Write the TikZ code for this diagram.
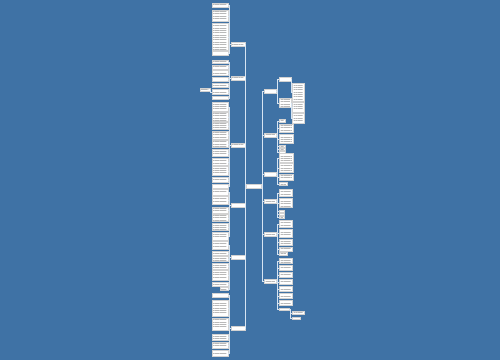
\documentclass[tikz,border=0pt]{standalone}
\usepackage{tikz}
\usetikzlibrary{patterns.meta}
\definecolor{bgblue}{RGB}{63,114,165}
\definecolor{linkc}{RGB}{214,228,242}
\tikzset{
  card/.style 2 args={draw=gray!35, line width=0.2pt, fill=white, inner sep=0pt,
    minimum width={#1*0.02cm}, minimum height={#2*0.02cm},
    path picture={\fill[pattern={Lines[distance=1.35pt,line width=0.35pt]}, pattern color=gray!55]
      ([shift={(0.8pt,-0.6pt)}]path picture bounding box.north west) rectangle
      ([shift={(-0.8pt,0.6pt)}]path picture bounding box.south east);}},
  topic/.style={card={14}{3.5}},
  link/.style={draw=linkc, line width=0.45pt},
}

\begin{document}
\begin{tikzpicture}[x=0.02cm, y=-0.02cm]
		%%%%% START %%%%%
		
		\fill[bgblue] (0,0) rectangle (500,360);
		\useasboundingbox (0,0) rectangle (500,360);
		
		\node[card={15}{4}] (root) at (254,186) {};
		
		% left topics
		\node[topic, anchor=east] (l1) at (245,44) {};
		\node[topic, anchor=east] (l2) at (245,78) {};
		\node[topic, anchor=east] (l3) at (245,145) {};
		\node[topic, anchor=east] (l4) at (245,205) {};
		\node[topic, anchor=east] (l5) at (245,257) {};
		\node[topic, anchor=east] (l6) at (245,328) {};
		\foreach \n in {l1,l2,l3,l4,l5,l6}
			\draw[link] (root.west) -- ++(-1,0) |- (\n.east);
		
		% right topics
		\node[card={12}{3.5}, anchor=west] (r1) at (264,91) {};
		\node[card={12}{3.5}, anchor=west] (r2) at (264,135) {};
		\node[card={12}{3.5}, anchor=west] (r3) at (264,174) {};
		\node[card={12}{3.5}, anchor=west] (r4) at (264,201) {};
		\node[card={12}{3.5}, anchor=west] (r5) at (264,234) {};
		\node[card={12}{3.5}, anchor=west] (r6) at (264,281) {};
		\foreach \n in {r1,r2,r3,r4,r5,r6}
			\draw[link] (root.east) -- ++(1,0) |- (\n.west);
		
		% left leaves
		\foreach \y/\h [count=\i] in {5/4,16/11,37/27,53/4}{
			\node[card={16}{\h}, anchor=east] (l1-\i) at (228,\y) {};
			\draw[link] (l1.west) -- ++(-1.5,0) |- (l1-\i.east);
		}
		\foreach \y/\h [count=\i] in {62/3,67/4,73/5,79/4,85/4,92/5,98/3}{
			\node[card={16}{\h}, anchor=east] (l2-\i) at (228,\y) {};
			\draw[link] (l2.west) -- ++(-1.5,0) |- (l2-\i.east);
		}
		\node[card={10}{3}, anchor=east] (l2-side) at (210,90) {};
		\draw[link] (l2-6.west) -- ++(-1,0) |- (l2-side.east);
		
		\foreach \y/\h [count=\i] in {107/9,117/9,126/7,135/8,144/7,153/7,162/7,171/9,180/5,186/4}{
			\node[card={16}{\h}, anchor=east] (l3-\i) at (228,\y) {};
			\draw[link] (l3.west) -- ++(-1.5,0) |- (l3-\i.east);
		}
		\foreach \y/\h [count=\i] in {192/6,200/8,210/6,218/7,227/7,236/8}{
			\node[card={16}{\h}, anchor=east] (l4-\i) at (228,\y) {};
			\draw[link] (l4.west) -- ++(-1.5,0) |- (l4-\i.east);
		}
		\foreach \y/\w/\h [count=\i] in {245/16/8,253/16/4,259/16/5,266/16/6,275/16/10,284/16/4,289/8/3}{
			\node[card={\w}{\h}, anchor=east] (l5-\i) at (228,\y) {};
			\draw[link] (l5.west) -- ++(-1.5,0) |- (l5-\i.east);
		}
		\foreach \y/\h [count=\i] in {295/4,308/16,324/12,337/6,345/6,353/6}{
			\node[card={16}{\h}, anchor=east] (l6-\i) at (228,\y) {};
			\draw[link] (l6.west) -- ++(-1.5,0) |- (l6-\i.east);
		}
		
		% right leaves
		\node[card={12}{4}, anchor=west] (r1-1) at (279,79) {};
		\node[card={12}{9}, anchor=west] (r1-2) at (279,103) {};
		\foreach \n in {r1-1,r1-2}
			\draw[link] (r1.east) -- ++(1.5,0) |- (\n.west);
		\node[card={12}{18}, anchor=west] (r1-1-1) at (292,92) {};
		\draw[link] (r1-1.east) -- ++(0.5,0) |- (r1-1-1.west);
		\node[card={12}{10}, anchor=west] (r1-2-1) at (292,107) {};
		\node[card={12}{10}, anchor=west] (r1-2-2) at (292,118) {};
		\foreach \n in {r1-2-1,r1-2-2}
			\draw[link] (r1-2.east) -- ++(0.5,0) |- (\n.west);
		
		\foreach \y/\w/\h [count=\i] in {121/6/3,128/14/8,139/14/9,146/6/2,149/6/2,152/6/2}{
			\node[card={\w}{\h}, anchor=west] (r2-\i) at (279,\y) {};
			\draw[link] (r2.east) -- ++(1.5,0) |- (r2-\i.west);
		}
		\foreach \y/\w/\h [count=\i] in {158/14/9,168/14/9,177/14/6,184/8/3}{
			\node[card={\w}{\h}, anchor=west] (r3-\i) at (279,\y) {};
			\draw[link] (r3.east) -- ++(1.5,0) |- (r3-\i.west);
		}
		\foreach \y/\w/\h [count=\i] in {193/13/7,203/13/9,211/5/2,214/5/2,217/5/2}{
			\node[card={\w}{\h}, anchor=west] (r4-\i) at (279,\y) {};
			\draw[link] (r4.east) -- ++(1.5,0) |- (r4-\i.west);
		}
		\foreach \y/\w/\h [count=\i] in {224/13/7,233/13/8,242/13/6,249/13/4,254/8/3}{
			\node[card={\w}{\h}, anchor=west] (r5-\i) at (279,\y) {};
			\draw[link] (r5.east) -- ++(1.5,0) |- (r5-\i.west);
		}
		\foreach \y/\w/\h [count=\i] in {261/13/5,268/13/5,275/13/5,282/13/5,289/13/5,296/13/5,303/13/5,309/10/2}{
			\node[card={\w}{\h}, anchor=west] (r6-\i) at (279,\y) {};
			\draw[link] (r6.east) -- ++(1.5,0) |- (r6-\i.west);
		}
		\node[card={12}{3}, anchor=west] (r6-8-1) at (292,313) {};
		\node[card={8}{2}, anchor=west] (r6-8-2) at (292,318) {};
		\foreach \n in {r6-8-1,r6-8-2}
			\draw[link] (r6-8.east) -- ++(1,0) |- (\n.west);
		
		%%%%% END %%%%%
\end{tikzpicture}
\end{document}
